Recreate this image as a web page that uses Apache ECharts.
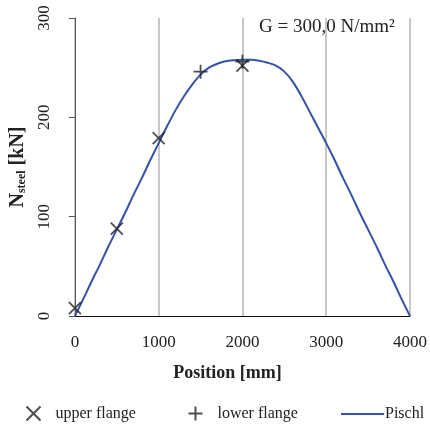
<!DOCTYPE html>
<html><head><meta charset="utf-8">
<script src="https://cdn.jsdelivr.net/npm/echarts@6/dist/echarts.min.js"></script>
<style>html,body{margin:0;padding:0;background:#fff}#c{width:430px;height:428px}</style>
</head><body><div id="c"></div>
<script>
const xTicks = [0, 1000, 2000, 3000, 4000];
const yTicks = [0, 100, 200, 300];
const upperPos = [0, 500, 1000, 2000];
const upperVal = [8, 88, 179, 252];
const lowerPos = [1500, 2000];
const lowerVal = [246, 256];
const pischlPos = [0,100,200,300,400,500,600,700,800,900,1000,1100,1200,1300,1400,1500,1600,1700,1800,1900,2000,2100,2200,2300,2400,2500,2600,2700,2800,2900,3000,3100,3200,3300,3400,3500,3600,3700,3800,3900,4000];
const pischlVal = [0,17,35,52,70,87,104,122,139,157,174,191,207,221,233,243,250,254,256.5,257.5,258,258,257,255,252,246,236,222,206,190,174,157,139,122,104,87,70,52,35,17,0];

const zip = (a,b) => a.map((v,i)=>[v,b[i]]);
const font = 'Liberation Serif';
const X = 'path://M0,0L10,10M10,0L0,10';
const P = 'path://M5,0L5,10M0,5L10,5';

const chart = echarts.init(document.getElementById('c'));
chart.setOption({
  animation: false,
  backgroundColor: '#fff',
  grid: {left: 68, right: 20, top: 18, bottom: 112},
  xAxis: {
    type: 'value', min: xTicks[0], max: xTicks[xTicks.length-1], interval: 1000,
    axisLine: {lineStyle: {color: '#111', width: 1}},
    axisTick: {show: false},
    splitLine: {show: true, lineStyle: {color: '#c8c8c8', width: 2}},
    axisLabel: {fontFamily: font, fontSize: 17, color: '#222', margin: 18, formatter: v => String(v)},
    name: 'Position [mm]', nameLocation: 'middle', nameGap: 48,
    nameTextStyle: {fontFamily: font, fontSize: 18, fontWeight: 'bold', color: '#222', padding: [0, 30, 0, 0]}
  },
  yAxis: {
    type: 'value', min: yTicks[0], max: yTicks[yTicks.length-1], interval: 100,
    axisLine: {show: true, lineStyle: {color: '#555', width: 1}},
    axisTick: {show: true, length: 6, lineStyle: {color: '#555'}},
    splitLine: {show: false},
    axisLabel: {fontFamily: font, fontSize: 17, color: '#222', rotate: 90, margin: 22, formatter: v => String(v)},
    name: '{n|N}{s|steel}{n| [kN]}', nameLocation: 'middle', nameGap: 46,
    nameTextStyle: {
      rich: {
        n: {fontFamily: font, fontSize: 20, fontWeight: 'bold', color: '#222'},
        s: {fontFamily: font, fontSize: 12, fontWeight: 'bold', color: '#222', verticalAlign: 'bottom', padding: [6,0,0,0]}
      }
    }
  },
  legend: [
    {data: ['upper flange'], left: 19, top: 399, itemWidth: 14, itemHeight: 14,
     textStyle: {fontFamily: font, fontSize: 16, color: '#222', padding: [0,0,0,10]}},
    {data: ['lower flange'], left: 181, top: 399, itemWidth: 14, itemHeight: 14,
     textStyle: {fontFamily: font, fontSize: 16, color: '#222', padding: [0,0,0,10]}},
    {data: [{name: 'Pischl', icon: 'rect'}], left: 336, top: 401, itemWidth: 43, itemHeight: 2,
     textStyle: {fontFamily: font, fontSize: 16, color: '#222', padding: [0,0,0,-4]}}
  ],
  graphic: [{
    type: 'text', left: 259, top: 18,
    style: {text: 'G = 300,0 N/mm²', fontFamily: font, fontSize: 19, fill: '#222'}
  }],
  series: [
    {name: 'Pischl', type: 'line', data: zip(pischlPos, pischlVal), showSymbol: false, symbol: 'none',
     lineStyle: {color: '#3452a6', width: 2}, itemStyle: {color: '#3452a6'}, z: 2, smooth: 0.3},
    {name: 'upper flange', type: 'scatter', data: zip(upperPos, upperVal), symbol: X, symbolSize: 12,
     itemStyle: {color: 'none', borderColor: '#222', borderWidth: 1.8}, z: 5},
    {name: 'lower flange', type: 'scatter', data: zip(lowerPos, lowerVal), symbol: P, symbolSize: 14,
     itemStyle: {color: 'none', borderColor: '#222', borderWidth: 1.8}, z: 5}
  ]
});
</script></body></html>
